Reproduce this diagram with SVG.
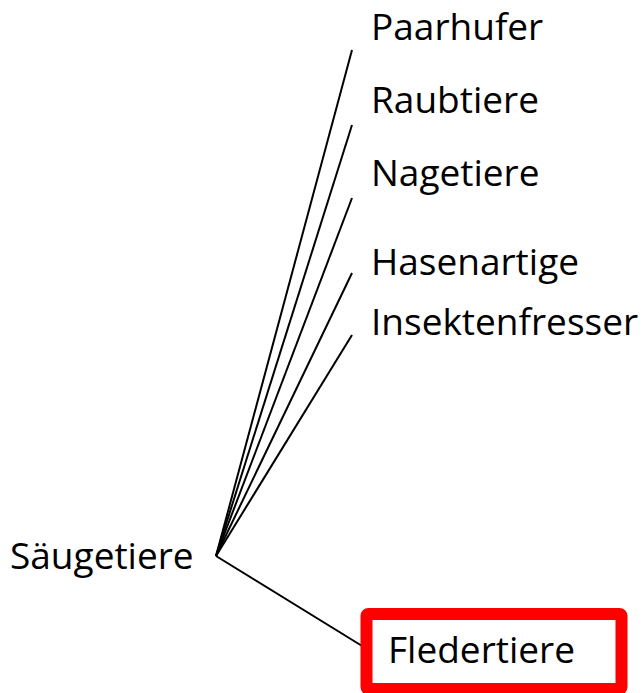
<svg xmlns="http://www.w3.org/2000/svg" width="643" height="693" viewBox="0 0 643 693">
<style>
.t{font-family:"Open Sans","Liberation Sans",sans-serif;font-size:37px;fill:#000}
.c{stroke:#000;stroke-width:2;fill:none}
</style>
<rect width="643" height="693" fill="#fff"/>
<g id="connectors">
<line class="c" x1="216" y1="556" x2="352" y2="50"/>
<line class="c" x1="216" y1="556" x2="352" y2="125"/>
<line class="c" x1="216" y1="556" x2="352" y2="198"/>
<line class="c" x1="216" y1="556" x2="352" y2="273"/>
<line class="c" x1="216" y1="556" x2="352" y2="335"/>
<line class="c" x1="216" y1="556" x2="367" y2="649"/>
</g>
<g id="saeugetiere"><text class="t" x="10" y="569">Säugetiere</text></g>
<g id="paarhufer"><text class="t" x="371" y="40">Paarhufer</text></g>
<g id="raubtiere"><text class="t" x="371" y="113">Raubtiere</text></g>
<g id="nagetiere"><text class="t" x="371" y="186">Nagetiere</text></g>
<g id="hasenartige"><text class="t" x="371" y="275">Hasenartige</text></g>
<g id="insektenfresser"><text class="t" x="371" y="335">Insektenfresser</text></g>
<g id="fledertiere">
<rect x="366.5" y="614" width="255" height="75" fill="#fff" stroke="#f00" stroke-width="12" rx="2"/>
<text class="t" x="388" y="663">Fledertiere</text>
</g>
</svg>
